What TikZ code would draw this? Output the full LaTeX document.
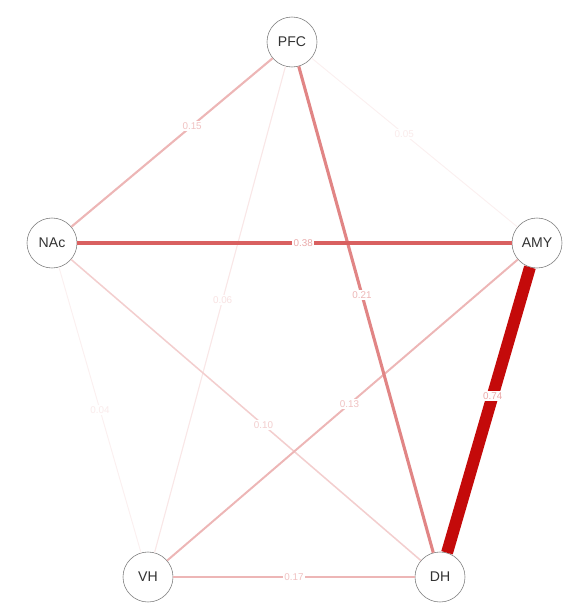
\documentclass[tikz,border=0pt]{standalone}
\usepackage{fontspec}
\setmainfont{Liberation Sans}
\usetikzlibrary{positioning,calc}
\definecolor{EdgeRed}{HTML}{C40A0A}
\definecolor{RingGray}{HTML}{7A7A7A}

\begin{document}
\begin{tikzpicture}[x=0.025cm, y=-0.025cm,
  every node/.style={font=\fontsize{10}{12}\selectfont},
  region/.style={draw=RingGray, fill=white, circle, thin, minimum size=1.25cm, inner sep=0pt, text=black!80},
  weight/.style={fill=white, inner sep=1pt, font=\fontsize{7}{8}\selectfont}]
  \useasboundingbox (0,0) rectangle (582,610);
  % Nodes
  \node [region] (pfc) at (292,42) {PFC};
  \node [region] (nac) at (52,243) {NAc};
  \node [region] (amy) at (537,243) {AMY};
  \node [region] (vh) at (148,577) {VH};
  \node [region] (dh) at (440,577) {DH};

  % Paths
  \draw [EdgeRed!6, line width=0.7pt] (nac) -- node [weight, text=EdgeRed!8, pos=0.5] {0.04} (vh);
  \draw [EdgeRed!6, line width=0.7pt] (pfc) -- node [weight, text=EdgeRed!8, pos=0.45] {0.05} (amy);
  \draw [EdgeRed!10, line width=0.8pt] (pfc) -- node [weight, text=EdgeRed!12, pos=0.48] {0.06} (vh);
  \draw [EdgeRed!20, line width=1.1pt] (nac) -- node [weight, text=EdgeRed!20, pos=0.55] {0.10} (dh);
  \draw [EdgeRed!30, line width=1.4pt] (amy) -- node [weight, text=EdgeRed!25, pos=0.48] {0.13} (vh);
  \draw [EdgeRed!30, line width=1.5pt] (pfc) -- node [weight, text=EdgeRed!25, pos=0.4] {0.15} (nac);
  \draw [EdgeRed!30, line width=1.8pt] (vh) -- node [weight, text=EdgeRed!25] {0.17} (dh);
  \draw [EdgeRed!50, line width=2.2pt] (pfc) -- node [weight, text=EdgeRed!30, pos=0.47] {0.21} (dh);
  \draw [EdgeRed!65, line width=3.5pt] (nac) -- node [weight, text=EdgeRed!35, pos=0.52] {0.38} (amy);
  \draw [EdgeRed, line width=8.5pt] (amy) -- node [weight, text=EdgeRed!35, pos=0.45] {0.74} (dh);
\end{tikzpicture}
\end{document}
